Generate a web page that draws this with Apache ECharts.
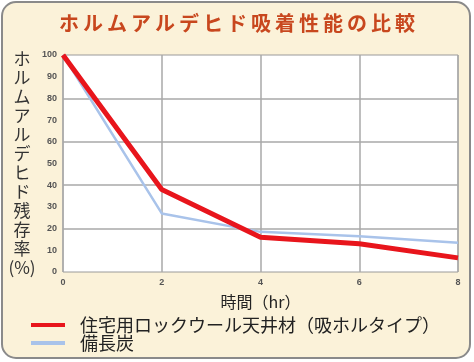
<!DOCTYPE html>
<html>
<head>
<meta charset="utf-8">
<script src="https://cdn.jsdelivr.net/npm/echarts@6/dist/echarts.min.js"></script>
<style>
  html, body { margin: 0; padding: 0; background: #ffffff; }
  #chart { width: 474px; height: 362px; }
</style>
</head>
<body>
<div id="chart"></div>
<script>
// Elapsed time (hours)
var hours = [0, 2, 4, 6, 8];
// Remaining formaldehyde (%) per material
var rockWool = [100, 38, 16, 13, 6.5];
var charcoal = [100, 27, 18.5, 16.5, 13.5];
var seriesNames = ['住宅用ロックウール天井材（吸ホルタイプ）', '備長炭'];
var yTicks = [0, 10, 20, 30, 40, 50, 60, 70, 80, 90, 100];
var titleText = 'ホルムアルデヒド吸着性能の比較';

var chart = echarts.init(document.getElementById('chart'));
var font = '"Noto Sans CJK JP", "Noto Sans", sans-serif';

chart.setOption({
  animation: false,
  graphic: [{
    type: 'rect',
    z: -10,
    shape: { x: 2, y: 2, width: 468, height: 356, r: 14 },
    style: { fill: '#fbf2d9', stroke: '#8a8a8a', lineWidth: 2 }
  }],
  title: {
    // thin spaces give the heading its wide letter spacing
    text: titleText.split('').join('\u2009'),
    left: 'center',
    top: 8,
    textStyle: { fontFamily: font, fontSize: 20, fontWeight: 'bold', color: '#c8471e' }
  },
  grid: {
    left: 63, right: 16, top: 55, bottom: 90,
    outerBoundsMode: 'none',
    containLabel: false,
    show: true, backgroundColor: '#ffffff', borderColor: '#9a9a9a', borderWidth: 1
  },
  legend: {
    orient: 'vertical',
    left: 26,
    top: 311,
    itemWidth: 34,
    itemHeight: 4,
    itemGap: 0,
    icon: 'rect',
    data: seriesNames,
    textStyle: { fontFamily: font, fontSize: 18, color: '#222', padding: [0, 0, 0, 10], lineHeight: 16 }
  },
  xAxis: {
    type: 'value',
    min: 0, max: 8, interval: 2,
    name: '時間（hr）',
    nameLocation: 'middle',
    nameGap: 22,
    nameTextStyle: { fontFamily: font, fontSize: 16, color: '#222' },
    axisLine: { show: false },
    axisTick: { show: false },
    splitLine: { show: true, lineStyle: { color: '#a8a8a8', width: 1.5 } },
    axisLabel: { fontSize: 9, fontWeight: 'bold', color: '#555', margin: 6,
      formatter: function (v) { return hours.indexOf(v) >= 0 ? String(v) : ''; } }
  },
  yAxis: {
    type: 'value',
    min: 0, max: 100, interval: 10,
    name: 'ホ\nル\nム\nア\nル\nデ\nヒ\nド\n残\n存\n率\n(%)',
    nameLocation: 'middle',
    nameRotate: 0,
    nameGap: 41,
    nameTextStyle: { fontFamily: font, fontSize: 17, color: '#333', lineHeight: 19, align: 'center' },
    axisLine: { show: false },
    axisTick: { show: false },
    splitLine: {
      show: true,
      lineStyle: {
        color: ['transparent', 'transparent', '#a8a8a8', 'transparent', '#a8a8a8', 'transparent',
                '#a8a8a8', 'transparent', '#a8a8a8', 'transparent', 'transparent'],
        width: 1.5
      }
    },
    axisLabel: { fontSize: 9, fontWeight: 'bold', color: '#555', margin: 6,
      formatter: function (v) { return yTicks.indexOf(v) >= 0 ? String(v) : ''; } }
  },
  series: [
    {
      name: seriesNames[1],
      type: 'line',
      data: hours.map(function (h, i) { return [h, charcoal[i]]; }),
      symbol: 'none',
      lineStyle: { color: '#a9c3ea', width: 2.5 },
      itemStyle: { color: '#a9c3ea' },
      z: 2
    },
    {
      name: seriesNames[0],
      type: 'line',
      data: hours.map(function (h, i) { return [h, rockWool[i]]; }),
      symbol: 'none',
      lineStyle: { color: '#e8151c', width: 5 },
      itemStyle: { color: '#e8151c' },
      z: 3
    }
  ]
});
</script>
</body>
</html>
